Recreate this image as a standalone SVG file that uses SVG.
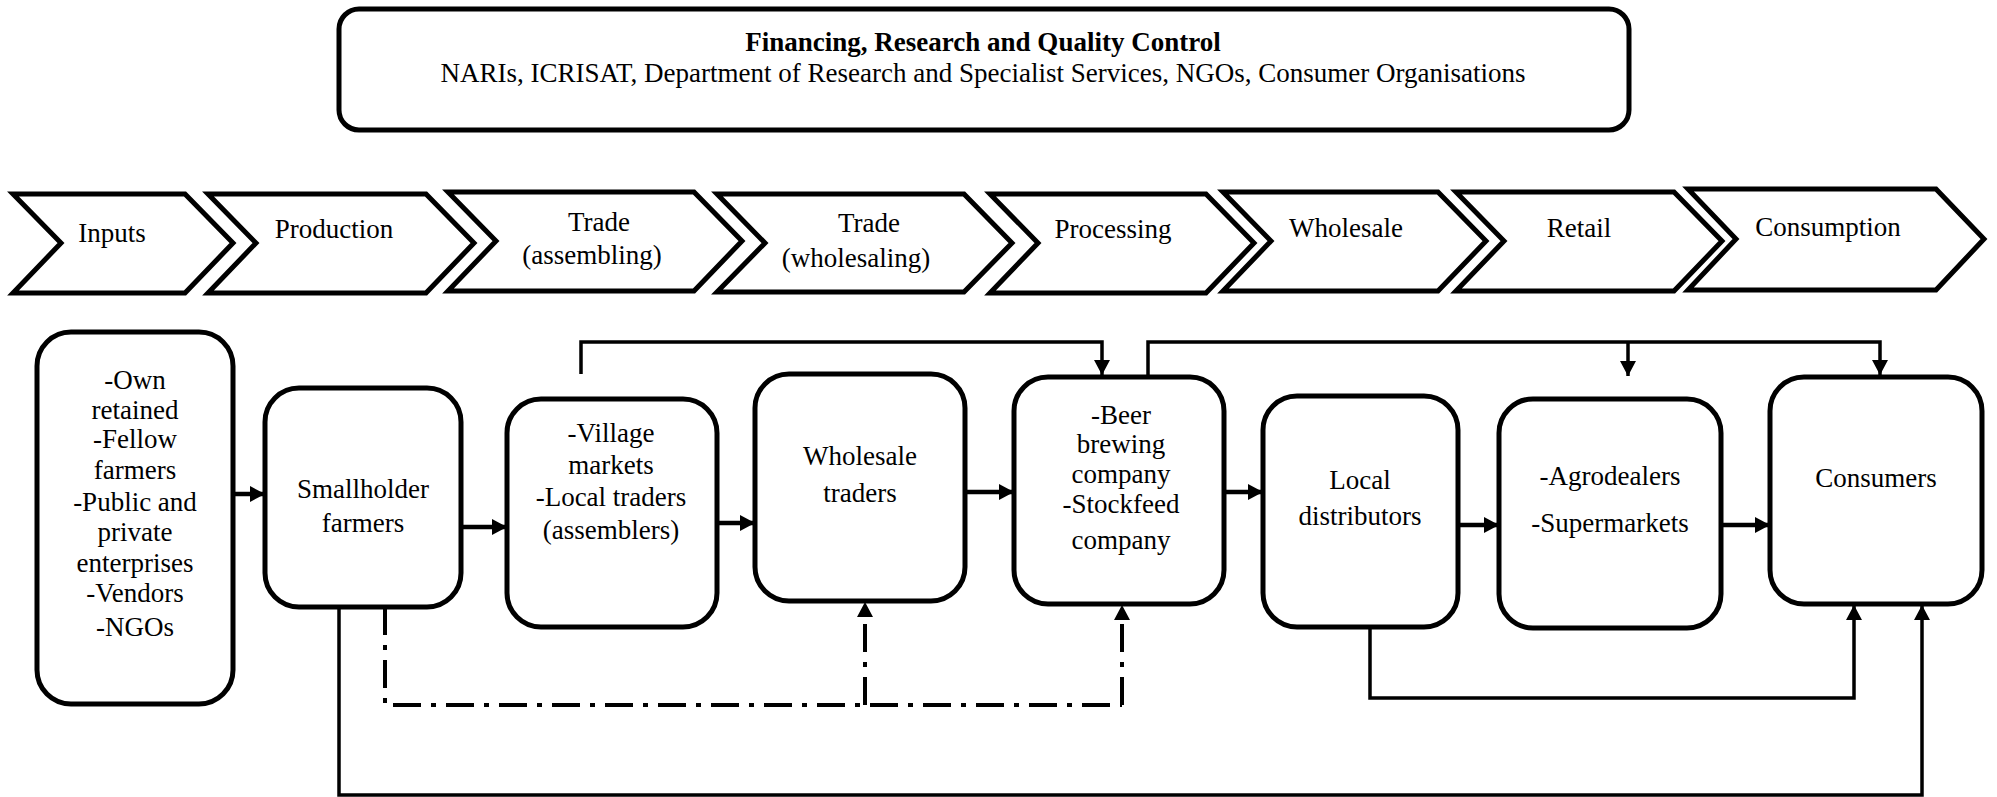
<svg xmlns="http://www.w3.org/2000/svg" width="1997" height="797" viewBox="0 0 1997 797">
<defs>
<marker id="ah" markerUnits="userSpaceOnUse" markerWidth="15" markerHeight="16" refX="15" refY="8" orient="auto">
<path d="M0,0 L15,8 L0,16 z" fill="#000"/>
</marker>
<style>
text{font-family:"Liberation Serif","Times New Roman",serif;font-size:27px;fill:#000;text-anchor:middle}
.b{font-weight:bold}
.box{fill:#fff;stroke:#000;stroke-width:5}
.chev{fill:#fff;stroke:#000;stroke-width:5;stroke-linejoin:miter}
.c{fill:none;stroke:#000;stroke-width:3.5}
.h{fill:none;stroke:#000;stroke-width:4.5}
.dd{fill:none;stroke:#000;stroke-width:4;stroke-dasharray:28 10 5 10}
</style>
</defs>
<rect width="1997" height="797" fill="#fff"/>

<g id="top">
<rect class="box" x="339" y="9" width="1290" height="121" rx="20"/>
<text class="b" x="983" y="51">Financing, Research and Quality Control</text>
<text x="983" y="82">NARIs, ICRISAT, Department of Research and Specialist Services, NGOs, Consumer Organisations</text>
</g>

<g id="stages">
<g id="s1"><polygon class="chev" points="13,194 185,194 233,243 185,293 13,293 61,243"/><text x="112" y="242">Inputs</text></g>
<g id="s2"><polygon class="chev" points="208,194 426,194 474,243 426,293 208,293 256,243"/><text x="334" y="238">Production</text></g>
<g id="s3"><polygon class="chev" points="448,192 694,192 742,241 694,291 448,291 496,241"/><text x="599" y="231">Trade</text><text x="592" y="264">(assembling)</text></g>
<g id="s4"><polygon class="chev" points="717,194 964,194 1012,243 964,292 717,292 765,243"/><text x="869" y="232">Trade</text><text x="856" y="267">(wholesaling)</text></g>
<g id="s5"><polygon class="chev" points="990,194 1206,194 1254,243 1206,293 990,293 1038,243"/><text x="1113" y="238">Processing</text></g>
<g id="s6"><polygon class="chev" points="1223,192 1438,192 1486,241 1438,291 1223,291 1271,241"/><text x="1346" y="237">Wholesale</text></g>
<g id="s7"><polygon class="chev" points="1456,192 1674,192 1722,241 1674,291 1456,291 1504,241"/><text x="1579" y="237">Retail</text></g>
<g id="s8"><polygon class="chev" points="1688,189 1936,189 1984,239 1936,290 1688,290 1736,239"/><text x="1828" y="236">Consumption</text></g>
</g>

<g id="connectors">
<line class="h" x1="233" y1="494" x2="265" y2="494" marker-end="url(#ah)"/>
<line class="h" x1="461" y1="527" x2="507" y2="527" marker-end="url(#ah)"/>
<line class="h" x1="717" y1="523" x2="755" y2="523" marker-end="url(#ah)"/>
<line class="h" x1="965" y1="492" x2="1014" y2="492" marker-end="url(#ah)"/>
<line class="h" x1="1224" y1="492" x2="1263" y2="492" marker-end="url(#ah)"/>
<line class="h" x1="1458" y1="525" x2="1499" y2="525" marker-end="url(#ah)"/>
<line class="h" x1="1721" y1="525" x2="1770" y2="525" marker-end="url(#ah)"/>
<polyline class="c" points="581,374 581,342 1102,342 1102,375" marker-end="url(#ah)"/>
<polyline class="c" points="1148,376 1148,342 1880,342 1880,375" marker-end="url(#ah)"/>
<line class="c" x1="1628" y1="342" x2="1628" y2="376" marker-end="url(#ah)"/>
<polyline class="dd" points="385,607 385,705 1122,705"/>
<line class="dd" x1="865" y1="705" x2="865" y2="602" marker-end="url(#ah)"/>
<line class="dd" x1="1122" y1="705" x2="1122" y2="605" marker-end="url(#ah)"/>
<polyline class="c" points="339,607 339,795 1922,795 1922,605" marker-end="url(#ah)"/>
<polyline class="c" points="1370,627 1370,698 1854,698 1854,605" marker-end="url(#ah)"/>
</g>

<g id="n-inputs">
<rect class="box" x="37" y="332" width="196" height="372" rx="34"/>
<text x="135" y="389">-Own</text>
<text x="135" y="419">retained</text>
<text x="135" y="448">-Fellow</text>
<text x="135" y="479">farmers</text>
<text x="135" y="511">-Public and</text>
<text x="135" y="541">private</text>
<text x="135" y="572">enterprises</text>
<text x="135" y="602">-Vendors</text>
<text x="135" y="636">-NGOs</text>
</g>
<g id="n-farmers">
<rect class="box" x="265" y="388" width="196" height="219" rx="34"/>
<text x="363" y="498">Smallholder</text>
<text x="363" y="532">farmers</text>
</g>
<g id="n-village">
<rect class="box" x="507" y="399" width="210" height="228" rx="34"/>
<text x="611" y="442">-Village</text>
<text x="611" y="474">markets</text>
<text x="611" y="506">-Local traders</text>
<text x="611" y="539">(assemblers)</text>
</g>
<g id="n-wholesale">
<rect class="box" x="755" y="374" width="210" height="227" rx="34"/>
<text x="860" y="465">Wholesale</text>
<text x="860" y="502">traders</text>
</g>
<g id="n-processors">
<rect class="box" x="1014" y="377" width="210" height="227" rx="34"/>
<text x="1121" y="424">-Beer</text>
<text x="1121" y="453">brewing</text>
<text x="1121" y="483">company</text>
<text x="1121" y="513">-Stockfeed</text>
<text x="1121" y="549">company</text>
</g>
<g id="n-distributors">
<rect class="box" x="1263" y="396" width="195" height="231" rx="34"/>
<text x="1360" y="489">Local</text>
<text x="1360" y="525">distributors</text>
</g>
<g id="n-retail">
<rect class="box" x="1499" y="399" width="222" height="229" rx="34"/>
<text x="1610" y="485">-Agrodealers</text>
<text x="1610" y="532">-Supermarkets</text>
</g>
<g id="n-consumers">
<rect class="box" x="1770" y="377" width="212" height="227" rx="34"/>
<text x="1876" y="487">Consumers</text>
</g>
</svg>
